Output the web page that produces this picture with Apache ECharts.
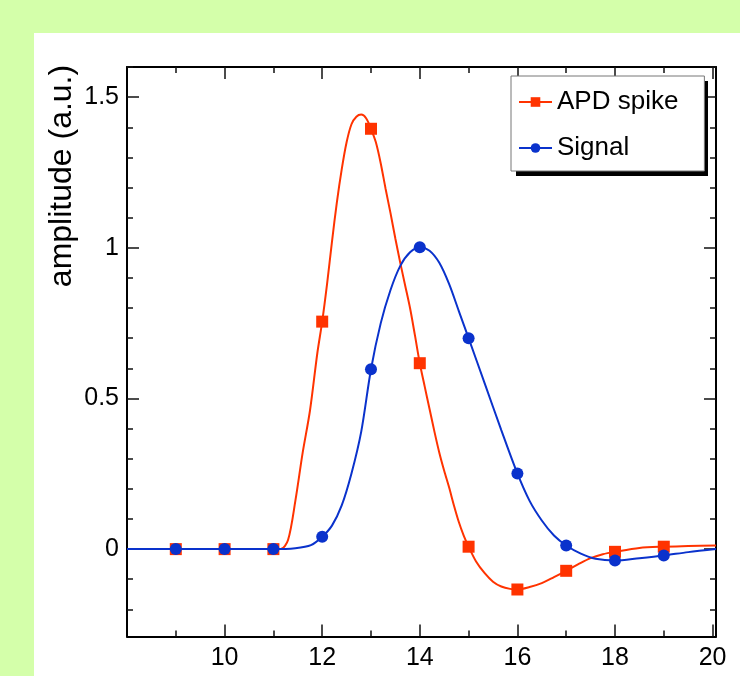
<!DOCTYPE html>
<html>
<head>
<meta charset="utf-8">
<script src="https://cdn.jsdelivr.net/npm/echarts@6/dist/echarts.min.js"></script>
<style>
html,body{margin:0;padding:0;background:#d4ffaa;}
#chart{width:740px;height:676px;}
</style>
</head>
<body>
<div id="chart"></div>
<script>
// ---- data ----
const seriesNames = ['APD spike', 'Signal'];
const sampleX = [9, 10, 11, 12, 13, 14, 15, 16, 17, 18, 19];
const apdValues = [0, 0, 0, 0.755, 1.395, 0.617, 0.008, -0.134, -0.072, -0.009, 0.008];
const signalValues = [0, 0, 0, 0.041, 0.597, 1.002, 0.70, 0.251, 0.012, -0.038, -0.021];

const apdCurveX = [8, 11, 11.15, 11.3, 11.45, 11.6, 11.75, 11.9, 12.0, 12.1, 12.2, 12.3, 12.4, 12.5, 12.6, 12.7, 12.8, 12.9, 13.0, 13.1, 13.2, 13.3, 13.4, 13.5, 13.6, 13.7, 13.8, 13.9, 14.0, 14.1, 14.2, 14.3, 14.4, 14.5, 14.6, 14.7, 14.8, 14.9, 15.0, 15.15, 15.33, 15.5, 15.67, 15.85, 16.0, 16.25, 16.5, 16.75, 17.0, 17.25, 17.5, 17.75, 18.0, 18.5, 19.0, 19.5, 20.07];
const apdCurveY = [0, 0, 0, 0.03, 0.16, 0.32, 0.46, 0.65, 0.755, 0.88, 1.02, 1.15, 1.26, 1.35, 1.41, 1.435, 1.442, 1.43, 1.395, 1.35, 1.28, 1.195, 1.115, 1.03, 0.95, 0.875, 0.8, 0.71, 0.617, 0.54, 0.465, 0.39, 0.32, 0.26, 0.205, 0.145, 0.09, 0.045, 0.008, -0.04, -0.08, -0.108, -0.124, -0.132, -0.134, -0.126, -0.113, -0.093, -0.072, -0.05, -0.03, -0.017, -0.009, 0.004, 0.008, 0.01, 0.012];

const signalCurveX = [8, 11, 11.45, 11.77, 12.0, 12.2, 12.4, 12.6, 12.8, 13.0, 13.2, 13.4, 13.6, 13.8, 14.0, 14.2, 14.4, 14.6, 14.8, 15.0, 15.33, 15.67, 16.0, 16.25, 16.5, 16.75, 17.0, 17.3, 17.6, 18.0, 18.5, 19.0, 19.5, 20.07];
const signalCurveY = [0, 0, 0.003, 0.013, 0.041, 0.078, 0.145, 0.251, 0.39, 0.597, 0.75, 0.86, 0.94, 0.985, 1.002, 0.99, 0.95, 0.88, 0.79, 0.70, 0.55, 0.395, 0.251, 0.16, 0.095, 0.045, 0.012, -0.015, -0.032, -0.038, -0.03, -0.021, -0.01, 0];

const xMajorTicks = [10, 12, 14, 16, 18, 20];
const xMinorTicks = [9, 11, 13, 15, 17, 19];
const yMajorTicks = [0, 0.5, 1, 1.5];
const yMinorTicks = [-0.2, -0.1, 0.1, 0.2, 0.3, 0.4, 0.6, 0.7, 0.8, 0.9, 1.1, 1.2, 1.3, 1.4, 1.6];
const yTitle = 'amplitude (a.u.)';

// ---- style ----
const FONT = '"Liberation Sans", Arial, Helvetica, sans-serif';
const RED = '#ff3300';
const BLUE = '#0a32cc';
const X_MIN = 8, X_MAX = 20.07, Y_MIN = -0.29, Y_MAX = 1.6;

function xAxisDef(position, ticks, len, showLine, showLabels) {
  return {
    type: 'value', position: position, min: X_MIN, max: X_MAX,
    axisLine: {show: showLine, onZero: false, lineStyle: {color: '#000', width: 2}},
    axisTick: {show: true, inside: true, length: len, customValues: ticks, lineStyle: {color: '#111', width: 1.5}},
    axisLabel: showLabels ? {show: true, customValues: ticks, fontSize: 25, color: '#000', fontFamily: FONT, margin: 9} : {show: false},
    splitLine: {show: false}
  };
}
function yAxisDef(position, ticks, len, showLine, showLabels) {
  return {
    type: 'value', position: position, min: Y_MIN, max: Y_MAX,
    axisLine: {show: showLine, onZero: false, lineStyle: {color: '#000', width: 2}},
    axisTick: {show: true, inside: true, length: len, customValues: ticks, lineStyle: {color: '#111', width: 1.5}},
    axisLabel: showLabels ? {show: true, customValues: ticks, fontSize: 25, color: '#000', fontFamily: FONT, margin: 8} : {show: false},
    splitLine: {show: false}
  };
}
const pairs = (xs, ys) => xs.map((x, i) => [x, ys[i]]);

const chart = echarts.init(document.getElementById('chart'), null, {renderer: 'canvas'});
chart.setOption({
  backgroundColor: '#d4ffaa',
  animation: false,
  graphic: [
    {type: 'rect', z: -10, silent: true, shape: {x: 34, y: 33, width: 706, height: 643}, style: {fill: '#ffffff'}},
    {type: 'rect', z: 10, silent: true, shape: {x: 516, y: 81, width: 192, height: 95}, style: {fill: '#000000'}},
    {type: 'text', x: 62, y: 176, rotation: Math.PI / 2, silent: true,
     style: {text: yTitle, fontSize: 32, fontFamily: FONT, fill: '#000', align: 'center', verticalAlign: 'middle'}}
  ],
  grid: {left: 127, right: 24, top: 67, bottom: 39.5, containLabel: false},
  xAxis: [
    xAxisDef('bottom', xMajorTicks, 12, true, true),
    xAxisDef('bottom', xMinorTicks, 6, false, false),
    xAxisDef('top', xMajorTicks, 12, true, false),
    xAxisDef('top', xMinorTicks, 6, false, false)
  ],
  yAxis: [
    yAxisDef('left', yMajorTicks, 12, true, true),
    yAxisDef('left', yMinorTicks, 6, false, false),
    yAxisDef('right', yMajorTicks, 12, true, false),
    yAxisDef('right', yMinorTicks, 6, false, false)
  ],
  legend: {
    data: seriesNames, orient: 'vertical', left: 511, top: 76, z: 20,
    padding: [13, 26, 10, 7], itemGap: 20, itemWidth: 33, itemHeight: 12,
    textStyle: {fontSize: 26, color: '#000', fontFamily: FONT},
    backgroundColor: '#fff', borderColor: '#777', borderWidth: 1, borderRadius: 0
  },
  series: [
    {name: seriesNames[0], type: 'line', xAxisIndex: 0, yAxisIndex: 0, data: pairs(apdCurveX, apdCurveY),
     smooth: 0.3, showSymbol: false, symbol: 'rect', symbolSize: 12,
     lineStyle: {color: RED, width: 2}, itemStyle: {color: RED, opacity: 1}, z: 2},
    {name: seriesNames[0], type: 'scatter', xAxisIndex: 0, yAxisIndex: 0, data: pairs(sampleX, apdValues),
     symbol: 'rect', symbolSize: 12, itemStyle: {color: RED, opacity: 1}, z: 3},
    {name: seriesNames[1], type: 'line', xAxisIndex: 0, yAxisIndex: 0, data: pairs(signalCurveX, signalCurveY),
     smooth: 0.3, showSymbol: false, symbol: 'circle', symbolSize: 12,
     lineStyle: {color: BLUE, width: 2}, itemStyle: {color: BLUE, opacity: 1}, z: 4},
    {name: seriesNames[1], type: 'scatter', xAxisIndex: 0, yAxisIndex: 0, data: pairs(sampleX, signalValues),
     symbol: 'circle', symbolSize: 12, itemStyle: {color: BLUE, opacity: 1}, z: 5}
  ]
});
</script>
</body>
</html>
